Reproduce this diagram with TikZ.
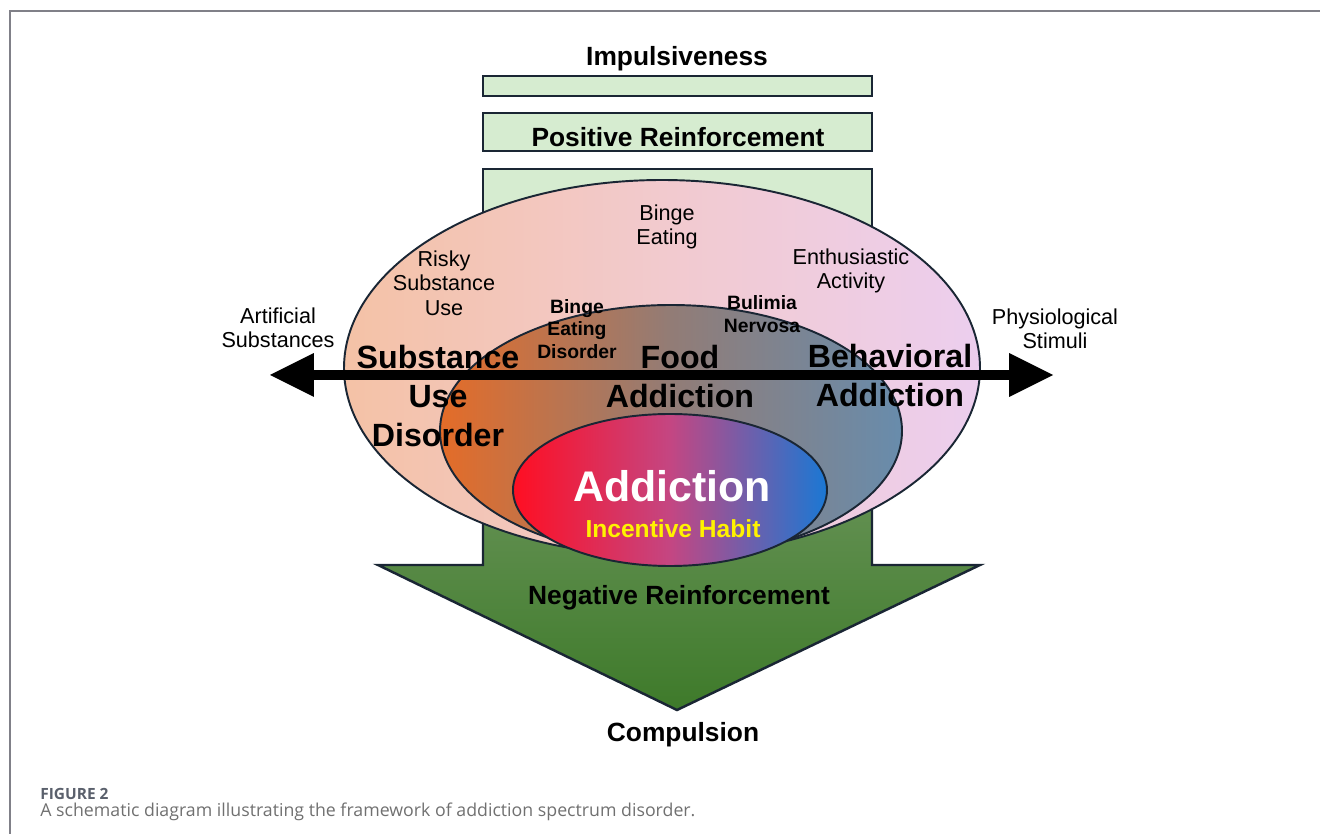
\documentclass[tikz,border=0pt]{standalone}
\usepackage{fontspec}
\setmainfont{Liberation Sans}
\newfontfamily\captionfont{Open Sans}
\usetikzlibrary{arrows.meta}

\definecolor{framegray}{RGB}{128,128,136}
\definecolor{edge}{RGB}{26,38,52}
\definecolor{barfill}{RGB}{214,236,208}
\definecolor{arrowtop}{RGB}{112,152,96}
\definecolor{arrowbot}{RGB}{62,122,42}
\definecolor{outerL}{RGB}{244,194,166}
\definecolor{outerM}{RGB}{242,202,206}
\definecolor{outerR}{RGB}{236,206,238}
\definecolor{midL}{RGB}{228,108,40}
\definecolor{midM}{RGB}{146,124,118}
\definecolor{midR}{RGB}{104,140,172}
\definecolor{innerL}{RGB}{255,14,34}
\definecolor{innerM}{RGB}{196,70,130}
\definecolor{innerR}{RGB}{26,120,212}
\definecolor{habit}{RGB}{255,242,0}
\definecolor{figgray}{RGB}{90,96,108}
\definecolor{capgray}{RGB}{112,112,112}

\tikzset{barbox/.style = {draw=edge, fill=barfill, line width=1.4pt}}
\tikzset{ring/.style = {draw=edge, line width=1.1pt}}
\tikzset{heading/.style = {font=\bfseries\fontsize{15}{18}\selectfont, anchor=base, inner sep=0}}
\tikzset{field/.style = {font=\bfseries\fontsize{18.3}{22.2}\selectfont, align=center, inner sep=0}}
\tikzset{example/.style = {font=\fontsize{12.3}{13.9}\selectfont, align=center, inner sep=0}}
\tikzset{subtype/.style = {font=\bfseries\fontsize{11}{13}\selectfont, align=center, inner sep=0}}
\tikzset{spectrum/.style = {line width=0.2cm,
                            arrows = {Triangle[length=0.88cm, width=0.88cm, line width=0pt]-Triangle[length=0.88cm, width=0.88cm, line width=0pt]}}}

\begin{document}
\begin{tikzpicture}[x=0.02cm, y=-0.02cm]
      \useasboundingbox (0, 0) rectangle (1320, 834);
      \draw [framegray, line width=0.8pt] (10, 834) -- (10, 11) -- (1320, 11);
      % green bars and the downward arrow, behind the rings
      \draw [barbox] (483, 76) rectangle (872, 96);
      \draw [barbox] (483, 113) rectangle (872, 151);
      \draw [barbox] (483, 169) rectangle (872, 420);
      \draw [draw=edge, line width=1.4pt, top color=arrowtop, bottom color=arrowbot]
        (483, 420) -- (483, 565) -- (378, 565) -- (677, 710) -- (980, 565) -- (872, 565) -- (872, 420) -- cycle;
      % nested rings
      \path [ring, left color=outerL, right color=outerR, middle color=outerM] (662, 368) ellipse [x radius=318, y radius=188];
      \path [ring, left color=midL, right color=midR, middle color=midM] (671, 431) ellipse [x radius=231, y radius=126];
      \path [ring, left color=innerL, right color=innerR, middle color=innerM] (670, 490) ellipse [x radius=157, y radius=76];
      % spectrum axis
      \coordinate (artsub) at (270, 375);
      \coordinate (physio) at (1053, 375);
      \draw [spectrum] (artsub) -- (physio);
      % labels
      \node [heading] (impuls) at (677, 66) {Impulsiveness};
      \node [heading] (posrf) at (678, 147) {Positive Reinforcement};
      \node [heading] (negrf) at (679, 605) {Negative Reinforcement};
      \node [heading] (compul) at (683, 742) {Compulsion};
      \node [example] (artlab) at (278, 328) {Artificial\\Substances};
      \node [example] (physlab) at (1055, 329) {Physiological\\Stimuli};
      \node [example] (risky) at (444, 283) {Risky\\Substance\\Use};
      \node [example] (binge) at (667, 227) {Binge\\Eating};
      \node [example] (enthus) at (851, 271) {Enthusiastic\\Activity};
      \node [subtype] (bed) at (577, 329) {Binge\\Eating\\Disorder};
      \node [subtype] (bulimia) at (762, 314) {Bulimia\\Nervosa};
      \node [field] (sud) at (438, 396) {Substance\\Use\\Disorder};
      \node [field] (food) at (680, 377) {Food\\Addiction};
      \node [field] (behav) at (890, 376) {Behavioral\\Addiction};
      \node [font=\bfseries\fontsize{24.4}{28}\selectfont, text=white, anchor=base, inner sep=0] (addict) at (672, 502) {Addiction};
      \node [font=\bfseries\fontsize{14}{16}\selectfont, text=habit, anchor=base, inner sep=0] (habit) at (673, 538) {Incentive Habit};
      % caption
      \node [font=\captionfont\bfseries\fontsize{8.8}{10}\selectfont, text=figgray, anchor=base west, inner sep=0] (figno) at (40, 800) {FIGURE 2};
      \node [font=\captionfont\fontsize{10.1}{12}\selectfont, text=capgray, anchor=base west, inner sep=0] (figcap) at (40, 817) {A schematic diagram illustrating the framework of addiction spectrum disorder.};
\end{tikzpicture}
\end{document}
